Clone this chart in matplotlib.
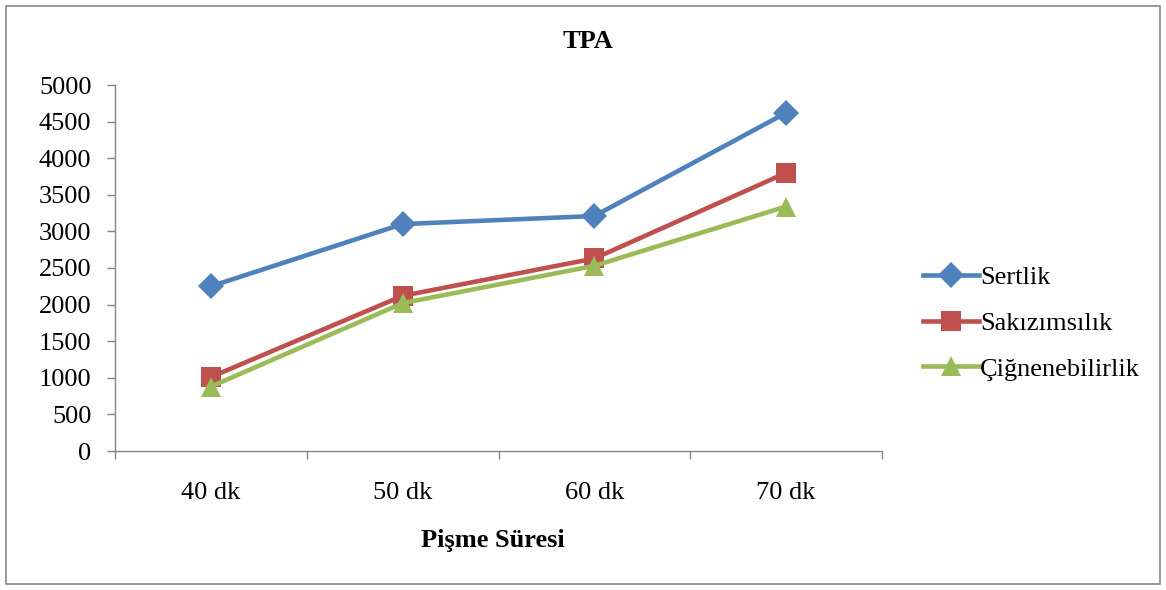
import matplotlib.pyplot as plt
from matplotlib.patches import Rectangle
import numpy as np

# TPA values per cooking time
categories = ["40 dk", "50 dk", "60 dk", "70 dk"]
sertlik = [2250, 3100, 3210, 4620]
sakizimsilik = [1010, 2120, 2630, 3800]
cignenebilirlik = [880, 2020, 2530, 3340]
y_ticks = [0, 500, 1000, 1500, 2000, 2500, 3000, 3500, 4000, 4500, 5000]

plt.rcParams['font.family'] = ['Liberation Serif', 'DejaVu Serif']
FS = 19

fig = plt.figure(figsize=(11.66, 5.90), dpi=100)
ax = fig.add_axes([115 / 1166, 1 - 451 / 590, 767 / 1166, 366 / 590])

x = np.arange(len(categories)) + 0.5
series = [
    ("Sertlik", sertlik, "#4F81BD", "D", 13),
    ("Sakızımsılık", sakizimsilik, "#C0504D", "s", 14),
    ("Çiğnenebilirlik", cignenebilirlik, "#9BBB59", "^", 15),
]
for label, values, color, marker, ms in series:
    ax.plot(x, values, color=color, lw=3.3, marker=marker, markersize=ms,
            markeredgewidth=0, label=label)

ax.set_xlim(0, len(categories))
ax.set_ylim(0, 5000)
ax.set_yticks(y_ticks)
ax.set_xticks(np.arange(len(categories) + 1))
ax.set_xticklabels([])
ax.set_xticks(x, minor=True)
ax.set_xticklabels(categories, minor=True)
ax.tick_params(axis='x', which='minor', length=0, pad=22, labelsize=FS)
ax.tick_params(axis='x', which='major', length=6, color='#868686', width=1)
ax.tick_params(axis='y', length=6, color='#868686', width=1, labelsize=FS, pad=11)

for side in ["top", "right"]:
    ax.spines[side].set_visible(False)
for side in ["left", "bottom"]:
    ax.spines[side].set_color('#868686')
    ax.spines[side].set_linewidth(1)

fig.text(588 / 1166, 1 - 41 / 590, "TPA", ha='center', va='center',
         fontsize=FS, fontweight='bold')
fig.text(493 / 1166, 1 - 540 / 590, "Pişme Süresi", ha='center', va='center',
         fontsize=FS, fontweight='bold')

fig.legend(loc='center left', bbox_to_anchor=(910 / 1166, 1 - 323 / 590),
           frameon=False, fontsize=FS, handlelength=2.1, handletextpad=0.05,
           labelspacing=0.85, borderpad=0)

# outer chart frame
fig.patches.append(Rectangle((6 / 1166, 6 / 590), 1154 / 1166, 578 / 590,
                             transform=fig.transFigure, fill=False,
                             edgecolor='#868686', linewidth=1.2))

plt.savefig("out.png", dpi=100)
plt.close()
